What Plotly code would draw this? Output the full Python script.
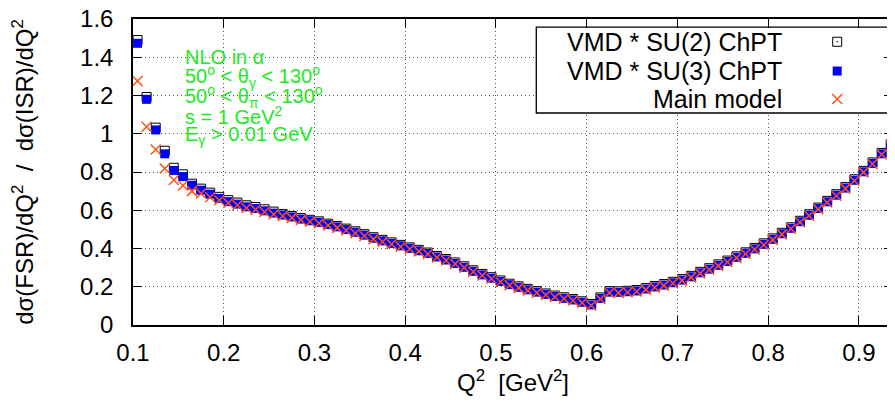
import plotly.graph_objects as go

# Q^2 sampling points [GeV^2]
Q2 = [0.105, 0.115, 0.125, 0.135, 0.145, 0.155, 0.165, 0.175, 0.185, 0.195,
      0.205, 0.215, 0.225, 0.235, 0.245, 0.255, 0.265, 0.275, 0.285, 0.295,
      0.305, 0.315, 0.325, 0.335, 0.345, 0.355, 0.365, 0.375, 0.385, 0.395,
      0.405, 0.415, 0.425, 0.435, 0.445, 0.455, 0.465, 0.475, 0.485, 0.495,
      0.505, 0.515, 0.525, 0.535, 0.545, 0.555, 0.565, 0.575, 0.585, 0.595,
      0.605, 0.615, 0.625, 0.635, 0.645, 0.655, 0.665, 0.675, 0.685, 0.695,
      0.705, 0.715, 0.725, 0.735, 0.745, 0.755, 0.765, 0.775, 0.785, 0.795,
      0.805, 0.815, 0.825, 0.835, 0.845, 0.855, 0.865, 0.875, 0.885, 0.895,
      0.905, 0.915, 0.925, 0.935]

# ratio dsigma(FSR)/dQ2 / dsigma(ISR)/dQ2
SU2_CHPT = [1.490, 1.192, 1.032, 0.911, 0.822, 0.788, 0.739, 0.713, 0.692, 0.670,
            0.653, 0.640, 0.626, 0.617, 0.605, 0.593, 0.580, 0.570, 0.559, 0.550,
            0.542, 0.530, 0.518, 0.504, 0.490, 0.475, 0.459, 0.445, 0.432, 0.419,
            0.406, 0.393, 0.379, 0.361, 0.345, 0.327, 0.307, 0.286, 0.267, 0.250,
            0.233, 0.216, 0.202, 0.189, 0.177, 0.165, 0.154, 0.145, 0.136, 0.124,
            0.110, 0.144, 0.177, 0.176, 0.179, 0.183, 0.193, 0.204, 0.214, 0.226,
            0.240, 0.257, 0.278, 0.297, 0.317, 0.337, 0.359, 0.380, 0.403, 0.427,
            0.453, 0.482, 0.511, 0.545, 0.579, 0.614, 0.649, 0.684, 0.721, 0.762,
            0.806, 0.850, 0.900, 0.945]

SU3_CHPT = [1.473, 1.180, 1.020, 0.895, 0.808, 0.776, 0.731, 0.705, 0.684, 0.662,
            0.645, 0.632, 0.618, 0.609, 0.597, 0.585, 0.575, 0.565, 0.554, 0.545,
            0.537, 0.525, 0.513, 0.499, 0.485, 0.470, 0.454, 0.440, 0.427, 0.414,
            0.401, 0.388, 0.374, 0.356, 0.340, 0.322, 0.302, 0.281, 0.262, 0.245,
            0.228, 0.211, 0.197, 0.184, 0.172, 0.160, 0.149, 0.140, 0.131, 0.119,
            0.105, 0.139, 0.172, 0.171, 0.174, 0.178, 0.188, 0.199, 0.209, 0.221,
            0.235, 0.252, 0.273, 0.292, 0.312, 0.332, 0.354, 0.375, 0.398, 0.422,
            0.448, 0.477, 0.506, 0.540, 0.574, 0.609, 0.644, 0.679, 0.716, 0.757,
            0.801, 0.845, 0.895, 0.940]

MAIN_MODEL = [1.276, 1.037, 0.918, 0.818, 0.758, 0.729, 0.700, 0.688, 0.668, 0.652,
              0.638, 0.626, 0.612, 0.603, 0.591, 0.579, 0.570, 0.560, 0.549, 0.540,
              0.532, 0.520, 0.508, 0.494, 0.480, 0.465, 0.449, 0.435, 0.422, 0.409,
              0.397, 0.385, 0.371, 0.353, 0.337, 0.319, 0.299, 0.278, 0.259, 0.242,
              0.225, 0.208, 0.194, 0.181, 0.169, 0.157, 0.146, 0.137, 0.128, 0.116,
              0.102, 0.136, 0.169, 0.168, 0.171, 0.175, 0.185, 0.196, 0.206, 0.218,
              0.232, 0.249, 0.270, 0.289, 0.309, 0.329, 0.351, 0.372, 0.395, 0.419,
              0.445, 0.474, 0.503, 0.537, 0.571, 0.606, 0.641, 0.676, 0.713, 0.754,
              0.798, 0.842, 0.892, 0.937]

SERIES_NAMES = ["VMD * SU(2) ChPT", "VMD * SU(3) ChPT", "Main model"]

CUTS = ["NLO in \u03b1",
        "50<sup>o</sup> < \u03b8<sub>\u03b3</sub> < 130<sup>o</sup>",
        "50<sup>o</sup> < \u03b8<sub>\u03c0</sub> < 130<sup>o</sup>",
        "s = 1 GeV<sup>2</sup>",
        "E<sub>\u03b3</sub> > 0.01 GeV"]

FONT = "Liberation Sans, Arial, sans-serif"
ORANGE = "#ff5214"
GREEN = "#1cea1c"

MARKERS = [
    dict(symbol="square-open-dot", size=9, color="black", line=dict(color="black", width=1)),
    dict(symbol="square", size=9, color="#0000ff", line=dict(width=0)),
    dict(symbol="x-thin", size=10, color=ORANGE, line=dict(color=ORANGE, width=1.5)),
]


def ratio_plot():
    fig = go.Figure()
    for name, ys, mk in zip(SERIES_NAMES, [SU2_CHPT, SU3_CHPT, MAIN_MODEL], MARKERS):
        fig.add_trace(go.Scatter(x=Q2, y=ys, mode="markers", name=name,
                                 marker=mk, showlegend=False))

    # hand-made gnuplot style key: text right aligned, symbol on the right
    fig.add_shape(type="rect", xref="x", yref="y", x0=0.5444, x1=0.932, y0=1.1085, y1=1.558,
                  line=dict(color="black", width=1.3), fillcolor="white", layer="between")
    key_rows = [1.481, 1.328, 1.182]
    for name, ky, mk in zip(SERIES_NAMES, key_rows, MARKERS):
        fig.add_annotation(x=0.8175, y=ky, xref="x", yref="y", text=name, showarrow=False,
                           xanchor="right", yanchor="middle",
                           font=dict(family=FONT, size=25, color="black"))
        fig.add_trace(go.Scatter(x=[0.876], y=[ky], mode="markers", marker=mk,
                                 showlegend=False, hoverinfo="skip"))

    for i, line in enumerate(CUTS):
        fig.add_annotation(x=0.155, y=1.401 - i * 0.102, xref="x", yref="y", text=line,
                           showarrow=False, xanchor="left", yanchor="middle",
                           font=dict(family=FONT, size=20, color=GREEN))

    axis_style = dict(ticks="inside", ticklen=9, tickcolor="black", tickwidth=1.2,
                      showline=True, linecolor="black", linewidth=1.5, mirror="allticks",
                      showgrid=True, gridcolor="#555555", gridwidth=1, griddash="1px,3px",
                      zeroline=False, automargin=False, ticklabeloverflow="allow",
                      tickfont=dict(family=FONT, size=24, color="black"))
    fig.update_xaxes(range=[0.1, 0.9375], tick0=0.1, dtick=0.1, ticklabelstandoff=5,
                     title=dict(text="Q<sup>2</sup>\u00a0\u00a0[GeV<sup>2</sup>]", standoff=7,
                                font=dict(family=FONT, size=24, color="black")),
                     **axis_style)
    fig.update_yaxes(range=[0, 1.6], dtick=0.2, ticklabelstandoff=13,
                     title=dict(text="d\u03c3(FSR)/dQ<sup>2</sup>\u00a0\u00a0/\u00a0\u00a0d\u03c3(ISR)/dQ<sup>2</sup>",
                                standoff=42, font=dict(family=FONT, size=24, color="black")),
                     **axis_style)
    # the page body keeps its default 8px margin, so the figure is sized to sit inside it
    fig.update_layout(template="none", width=887, height=390,
                      margin=dict(l=125, r=2, t=11, b=73),
                      plot_bgcolor="white", paper_bgcolor="white", showlegend=False,
                      font=dict(family=FONT, color="black"))
    return fig


fig = ratio_plot()
fig.write_html("out.html")
